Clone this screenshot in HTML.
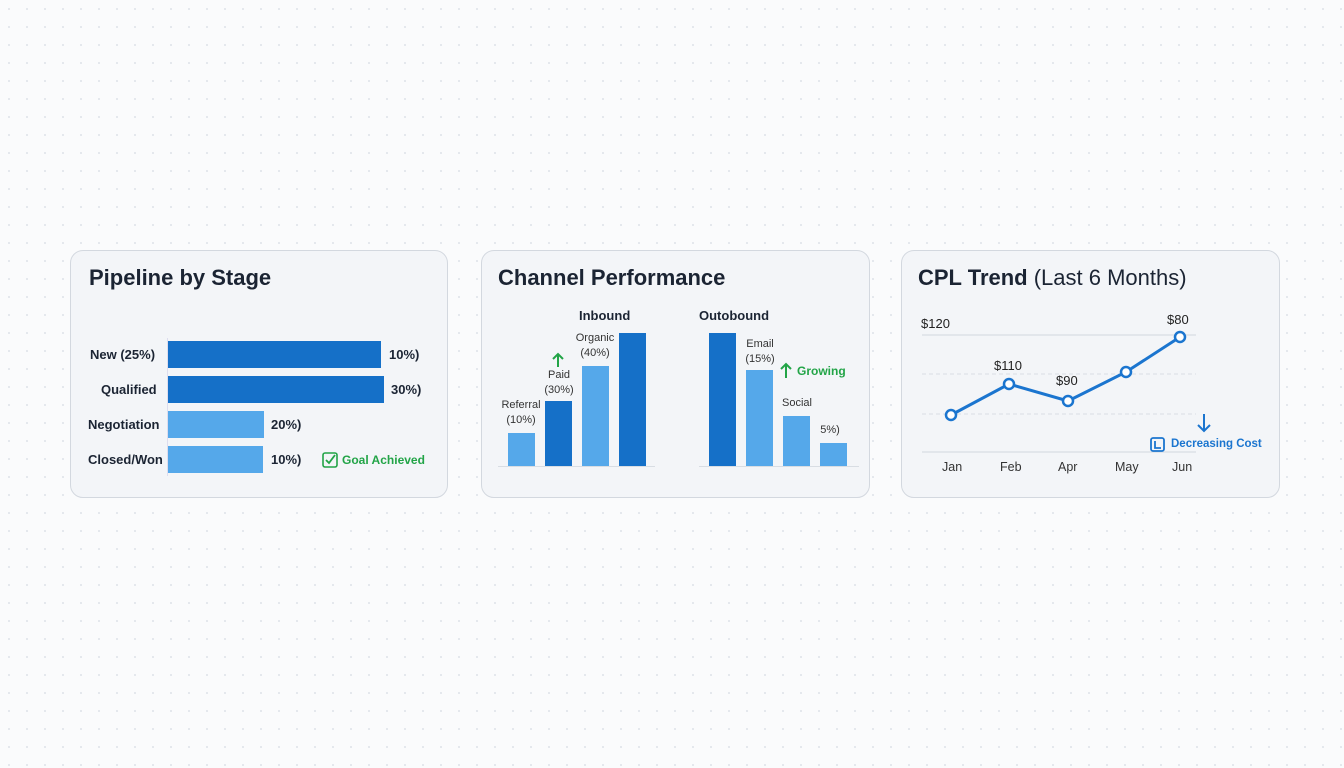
<!DOCTYPE html>
<html><head><meta charset="utf-8"><style>
body{margin:0;width:1344px;height:768px;background:#fafbfc;background-image:radial-gradient(#e3e7ec 1px,transparent 1.2px);background-size:18px 18px;font-family:"Liberation Sans",sans-serif;position:relative;overflow:hidden}
.card{position:absolute;top:250px;height:248px;background:#f3f5f8;border:1.5px solid #d3d8df;border-radius:13px;box-sizing:border-box}
.t{position:absolute;white-space:nowrap}
.h{font-size:22px;font-weight:bold;color:#1b2433}
.b{position:absolute}
.d{background:#1570c8}.l{background:#55a8ea}
.lab{font-size:13px;font-weight:bold;color:#1b2433}
.sm{font-size:11px;color:#333;text-align:center;line-height:15px}
</style></head><body>
<div class="card" style="left:70px;width:378px"></div>
<div class="card" style="left:481px;width:389px"></div>
<div class="card" style="left:901px;width:379px"></div>

<div class="t h" style="left:89px;top:265px">Pipeline by Stage</div>
<div class="b" style="left:167px;top:338px;width:1px;height:138px;background:#dde"></div>
<div class="b d" style="left:168px;top:341px;width:213px;height:27px"></div>
<div class="b d" style="left:168px;top:376px;width:216px;height:27px"></div>
<div class="b l" style="left:168px;top:411px;width:96px;height:27px"></div>
<div class="b l" style="left:168px;top:446px;width:95px;height:27px"></div>
<div class="t lab" style="left:90px;top:347px">New (25%)</div>
<div class="t lab" style="left:101px;top:382px">Qualified</div>
<div class="t lab" style="left:88px;top:417px">Negotiation</div>
<div class="t lab" style="left:88px;top:452px">Closed/Won</div>
<div class="t lab" style="left:389px;top:347px">10%)</div>
<div class="t lab" style="left:391px;top:382px">30%)</div>
<div class="t lab" style="left:271px;top:417px">20%)</div>
<div class="t lab" style="left:271px;top:452px">10%)</div>
<svg class="b" style="left:322px;top:452px" width="17" height="17"><rect x="1" y="1" width="14" height="14" rx="2" fill="none" stroke="#22a447" stroke-width="1.6"/><path d="M4 8l3 3 6-8" fill="none" stroke="#22a447" stroke-width="1.8"/></svg>
<div class="t" style="left:342px;top:453px;font-size:12px;font-weight:bold;color:#22a447">Goal Achieved</div>

<div class="t h" style="left:498px;top:265px">Channel Performance</div>
<div class="t lab" style="left:579px;top:308px">Inbound</div>
<div class="t lab" style="left:699px;top:308px">Outobound</div>
<div class="b" style="left:498px;top:466px;width:157px;height:1px;background:#d8dde3"></div>
<div class="b" style="left:699px;top:466px;width:160px;height:1px;background:#d8dde3"></div>
<div class="b l" style="left:508px;top:433px;width:27px;height:33px"></div>
<div class="b d" style="left:545px;top:401px;width:27px;height:65px"></div>
<div class="b l" style="left:582px;top:366px;width:27px;height:100px"></div>
<div class="b d" style="left:619px;top:333px;width:27px;height:133px"></div>
<div class="b d" style="left:709px;top:333px;width:27px;height:133px"></div>
<div class="b l" style="left:746px;top:370px;width:27px;height:96px"></div>
<div class="b l" style="left:783px;top:416px;width:27px;height:50px"></div>
<div class="b l" style="left:820px;top:443px;width:27px;height:23px"></div>
<div class="t sm" style="left:498px;top:398px;width:46px">Referral<br>(10%)</div>
<div class="t sm" style="left:540px;top:368px;width:38px">Paid<br>(30%)</div>
<div class="t sm" style="left:573px;top:331px;width:44px">Organic<br>(40%)</div>
<div class="t sm" style="left:740px;top:337px;width:40px">Email<br>(15%)</div>
<div class="t sm" style="left:778px;top:396px;width:38px">Social</div>
<div class="t sm" style="left:815px;top:423px;width:30px">5%)</div>

<div class="t h" style="left:918px;top:265px">CPL Trend <span style="font-weight:normal">(Last 6 Months)</span></div>
<svg class="b" style="left:0;top:0" width="1344" height="768">
<path d="M558 367v-13M553 359l5-5 5 5" fill="none" stroke="#22a447" stroke-width="2"/>
<path d="M786 378v-14M781 369l5-5 5 5" fill="none" stroke="#22a447" stroke-width="2"/>
<line x1="922" y1="335" x2="1196" y2="335" stroke="#d8dde3" stroke-width="1.2"/>
<line x1="922" y1="374" x2="1196" y2="374" stroke="#d8dde3" stroke-dasharray="4 3"/>
<line x1="922" y1="414" x2="1196" y2="414" stroke="#d8dde3" stroke-dasharray="4 3"/>
<line x1="922" y1="452" x2="1196" y2="452" stroke="#d8dde3" stroke-width="1.2"/>
<polyline points="951,415 1009,384 1068,401 1126,372 1180,337" fill="none" stroke="#1b75cf" stroke-width="3"/>
<g fill="#fff" stroke="#1b75cf" stroke-width="2.5">
<circle cx="951" cy="415" r="5"/><circle cx="1009" cy="384" r="5"/><circle cx="1068" cy="401" r="5"/><circle cx="1126" cy="372" r="5"/><circle cx="1180" cy="337" r="5"/></g>
<path d="M1204 414v17M1198 425l6 6 6-6" fill="none" stroke="#1b75cf" stroke-width="2"/>
<rect x="1151" y="438" width="13" height="13" rx="2" fill="none" stroke="#1b75cf" stroke-width="1.8"/>
<path d="M1155 441v7h6" fill="none" stroke="#1b75cf" stroke-width="1.8"/>
</svg>
<div class="t" style="left:797px;top:364px;color:#22a447;font-size:12px;font-weight:bold">Growing</div>
<div class="t" style="left:921px;top:316px;font-size:13px;color:#222">$120</div>
<div class="t" style="left:994px;top:358px;font-size:13px;color:#222">$110</div>
<div class="t" style="left:1056px;top:373px;font-size:13px;color:#222">$90</div>
<div class="t" style="left:1167px;top:312px;font-size:13px;color:#222">$80</div>
<div class="t" style="left:1171px;top:438px;font-size:11.5px;font-weight:bold;color:#1b75cf">Decreasing Cost</div>
<div class="t" style="left:942px;top:460px;font-size:12.5px;color:#333">Jan</div>
<div class="t" style="left:1000px;top:460px;font-size:12.5px;color:#333">Feb</div>
<div class="t" style="left:1058px;top:460px;font-size:12.5px;color:#333">Apr</div>
<div class="t" style="left:1115px;top:460px;font-size:12.5px;color:#333">May</div>
<div class="t" style="left:1172px;top:460px;font-size:12.5px;color:#333">Jun</div>
</body></html>
